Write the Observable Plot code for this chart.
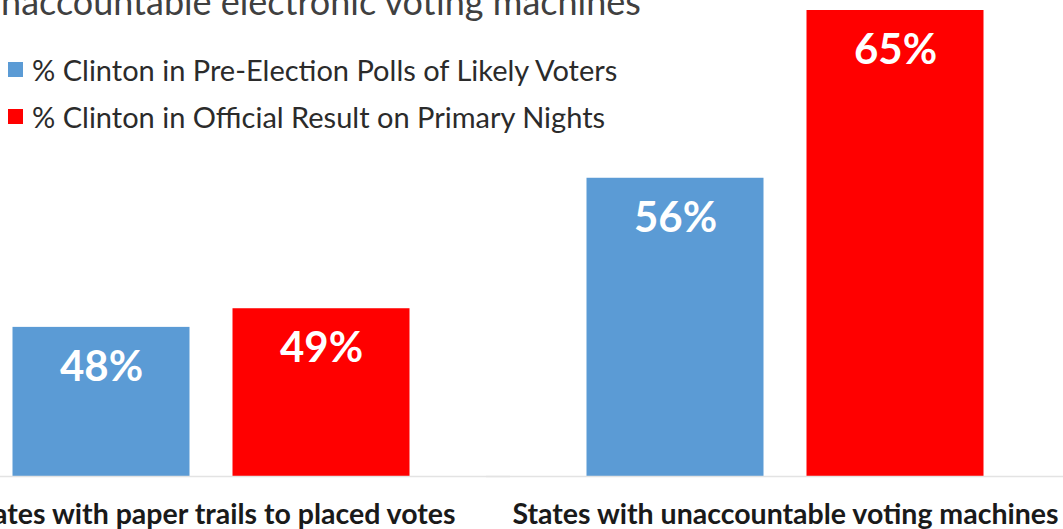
<!DOCTYPE html>
<html>
<head>
<meta charset="utf-8">
<script src="https://cdn.jsdelivr.net/npm/d3@7"></script>
<script src="https://cdn.jsdelivr.net/npm/@observablehq/plot@0.6"></script>
<style>
  html, body { margin: 0; padding: 0; background: #fff; overflow: hidden; }
  #wrap { position: relative; width: 1063px; height: 529px; overflow: hidden; font-family: Lato, "Open Sans", sans-serif; color: #262626; }
  #title { position: absolute; left: -19px; top: -21px; font-size: 36px; white-space: nowrap; color: #404040; }
  #legend { position: absolute; left: 8px; top: 46px; font-size: 29px; color: #2b2b2b; }
  .item { display: flex; align-items: center; height: 47px; white-space: nowrap; }
  .sw { width: 15px; height: 15px; margin-right: 9px; flex: none; }
  #chart { position: absolute; left: 0; top: 0; }
</style>
</head>
<body>
<div id="wrap">
  <div id="chart"></div>
  <div id="title"></div>
  <div id="legend"></div>
</div>
<script>
const titleText = "unaccountable electronic voting machines";
const categories = ["States with paper trails to placed votes", "States with unaccountable voting machines"];
const seriesNames = ["% Clinton in Pre-Election Polls of Likely Voters", "% Clinton in Official Result on Primary Nights"];
const seriesColors = ["#5b9bd5", "#ff0000"];
const pollValues = [48, 56];
const resultValues = [49, 65];

const data = [];
categories.forEach((c, i) => {
  data.push({category: c, series: seriesNames[0], value: pollValues[i]});
  data.push({category: c, series: seriesNames[1], value: resultValues[i]});
});

document.getElementById("title").textContent = titleText;
const legend = document.getElementById("legend");
seriesNames.forEach((s, i) => {
  const row = document.createElement("div");
  row.className = "item";
  const sw = document.createElement("span");
  sw.className = "sw";
  sw.style.background = seriesColors[i];
  const t = document.createElement("span");
  t.textContent = s;
  row.appendChild(sw); row.appendChild(t);
  legend.appendChild(row);
});

const chart = Plot.plot({
  width: 1063,
  height: 529,
  marginTop: 10,
  marginBottom: 53,
  marginLeft: 11.5,
  marginRight: 77.5,
  style: {fontFamily: "Lato, 'Open Sans', sans-serif", background: "transparent", overflow: "visible"},
  fx: {domain: categories, paddingInner: 0.306, paddingOuter: 0, label: null, axis: null},
  x: {domain: seriesNames, paddingInner: 0.195, paddingOuter: 0, axis: null, label: null},
  y: {domain: [40, 65], axis: null},
  color: {domain: seriesNames, range: seriesColors},
  marks: [
    Plot.barY(data, {fx: "category", x: "series", y: "value", fill: "series", clip: true}),
    Plot.ruleY([40], {stroke: "#e3e3e3", strokeWidth: 1.5, insetLeft: -100, insetRight: -100}),
    Plot.text(data, {fx: "category", x: "series", y: "value", text: d => d.value + "%", dy: 40, fill: "white", fontSize: 42, fontWeight: "bold"}),
    Plot.axisFx({anchor: "bottom", tickSize: 0, tickPadding: 27, fontSize: 28.5, fontWeight: "bold", fill: "#1a1a1a", label: null})
  ]
});
document.getElementById("chart").appendChild(chart);
</script>
</body>
</html>
